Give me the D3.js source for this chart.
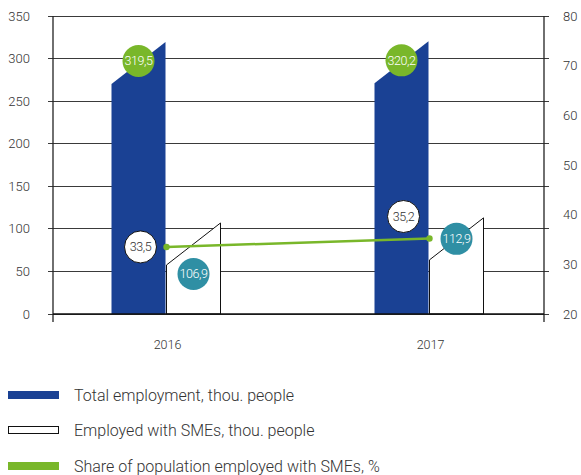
<!DOCTYPE html>
<html><head><meta charset="utf-8">
<script src="https://cdn.jsdelivr.net/npm/d3@7"></script>
<style>
body{margin:0;background:#fff;}
text{font-family:Roboto,"Noto Sans",sans-serif;font-weight:300;}
</style></head>
<body><svg id="c" width="581" height="475"></svg>
<script>
const years = ["2016", "2017"];
const totalEmployment = [319.5, 320.2];
const smeEmployment = [106.9, 112.9];
const smeShare = [33.5, 35.2];
const leftTicks = [0, 50, 100, 150, 200, 250, 300, 350];
const rightTicks = [20, 30, 40, 50, 60, 70, 80];
const legendLabels = ["Total employment, thou. people", "Employed with SMEs, thou. people", "Share of population employed with SMEs, %"];

const fmt = v => d3.format(".1f")(v).replace(".", ",");
const svg = d3.select("#c");
const BLUE = "#1a4194", GREEN = "#79b72a", TEAL = "#2f8fa4";
const L = 53, R = 544, T = 16, B = 314;

const x = d3.scaleBand().domain(years).range([35, 561]);
const yL = d3.scaleLinear().domain([0, 350]).range([B, T]);
const yR = d3.scaleLinear().domain([20, 80]).range([B, T]);
const barW = 54, slant = 42;

// gridlines
svg.append("g").selectAll("line").data(leftTicks).join("line")
  .attr("x1", L - 5).attr("x2", R + 5).attr("y1", d => yL(d)).attr("y2", d => yL(d))
  .attr("stroke", "#3a3a3a").attr("stroke-width", 1).attr("shape-rendering", "crispEdges");

// axes lines
svg.append("line").attr("x1", L).attr("x2", L).attr("y1", T).attr("y2", B + 8).attr("stroke", "#222").attr("stroke-width", 1.3);
svg.append("line").attr("x1", R).attr("x2", R).attr("y1", T).attr("y2", B + 8).attr("stroke", "#222").attr("stroke-width", 1.3);

// tick labels
svg.append("g").selectAll("text").data(leftTicks).join("text")
  .attr("x", 30).attr("y", d => yL(d) + 4.5).attr("text-anchor", "end")
  .attr("font-size", 13).attr("fill", "#333").text(d => d);
svg.append("g").selectAll("text").data(rightTicks).join("text")
  .attr("x", 563).attr("y", d => yR(d) + 4.5).attr("text-anchor", "start")
  .attr("font-size", 13).attr("fill", "#333").text(d => d);
svg.append("g").selectAll("text").data(years).join("text")
  .attr("x", d => x(d) + x.bandwidth() / 2 + 1).attr("y", 349).attr("text-anchor", "middle")
  .attr("font-size", 12.5).attr("fill", "#333").text(d => d);

function barPath(x0, val) {
  const yt = yL(val);
  return `M${x0},${yL(0)}L${x0},${yt + slant}L${x0 + barW},${yt}L${x0 + barW},${yL(0)}Z`;
}
const cx = d => x(d) + x.bandwidth() / 2;

// blue bars
svg.append("g").selectAll("path").data(years).join("path")
  .attr("d", (d, i) => barPath(cx(d) - barW - 1, totalEmployment[i]))
  .attr("fill", BLUE);
// white bars
svg.append("g").selectAll("path").data(years).join("path")
  .attr("d", (d, i) => barPath(cx(d), smeEmployment[i]))
  .attr("fill", "#fff").attr("stroke", "#111").attr("stroke-width", 1);
svg.append("line").attr("x1", L).attr("x2", R).attr("y1", yL(0)).attr("y2", yL(0)).attr("stroke", "#111").attr("stroke-width", 1.5);

// share line
const line = d3.line().x((d, i) => cx(years[i])).y(d => yR(d));
svg.append("path").attr("d", line(smeShare)).attr("fill", "none").attr("stroke", GREEN).attr("stroke-width", 2.5);
svg.append("g").selectAll("circle").data(smeShare).join("circle")
  .attr("cx", (d, i) => cx(years[i])).attr("cy", d => yR(d)).attr("r", 3.2).attr("fill", GREEN);

// labels
const R_LAB = 16;
function bubble(px, py, fill, stroke, txtColor, txt) {
  svg.append("circle").attr("cx", px).attr("cy", py).attr("r", R_LAB).attr("fill", fill)
    .attr("stroke", stroke).attr("stroke-width", stroke === "none" ? 0 : 1);
  svg.append("text").attr("x", px).attr("y", py + 4.5).attr("text-anchor", "middle")
    .attr("font-size", 12.5).attr("fill", txtColor).attr("letter-spacing", -0.4).text(txt);
}
const tealOffset = [51, 21];
const shareOffset = [0, -22];
years.forEach((yr, i) => {
  const bx = cx(yr) - barW / 2 - 1;
  bubble(bx, yL(totalEmployment[i]) + 19, GREEN, "none", "#fff", fmt(totalEmployment[i]));
  bubble(bx + 2, yR(smeShare[i]) + shareOffset[i], "#fff", "#111", "#333", fmt(smeShare[i]));
  bubble(cx(yr) + barW / 2, yL(smeEmployment[i]) + tealOffset[i], TEAL, "none", "#fff", fmt(smeEmployment[i]));
});

// legend
const lg = svg.append("g");
const ly = [395, 430, 466];
legendLabels.forEach((t, i) => {
  if (i === 1) {
    lg.append("rect").attr("x", 8.5).attr("y", ly[i] - 3.5).attr("width", 50).attr("height", 7).attr("fill", "#fff").attr("stroke", "#111").attr("stroke-width", 1);
  } else {
    lg.append("rect").attr("x", 8).attr("y", ly[i] - 4).attr("width", 51).attr("height", 8).attr("fill", i === 0 ? BLUE : GREEN);
  }
  lg.append("text").attr("x", 74).attr("y", ly[i] + 5.5).attr("font-size", 16).attr("fill", "#333").text(t);
});
</script></body></html>
